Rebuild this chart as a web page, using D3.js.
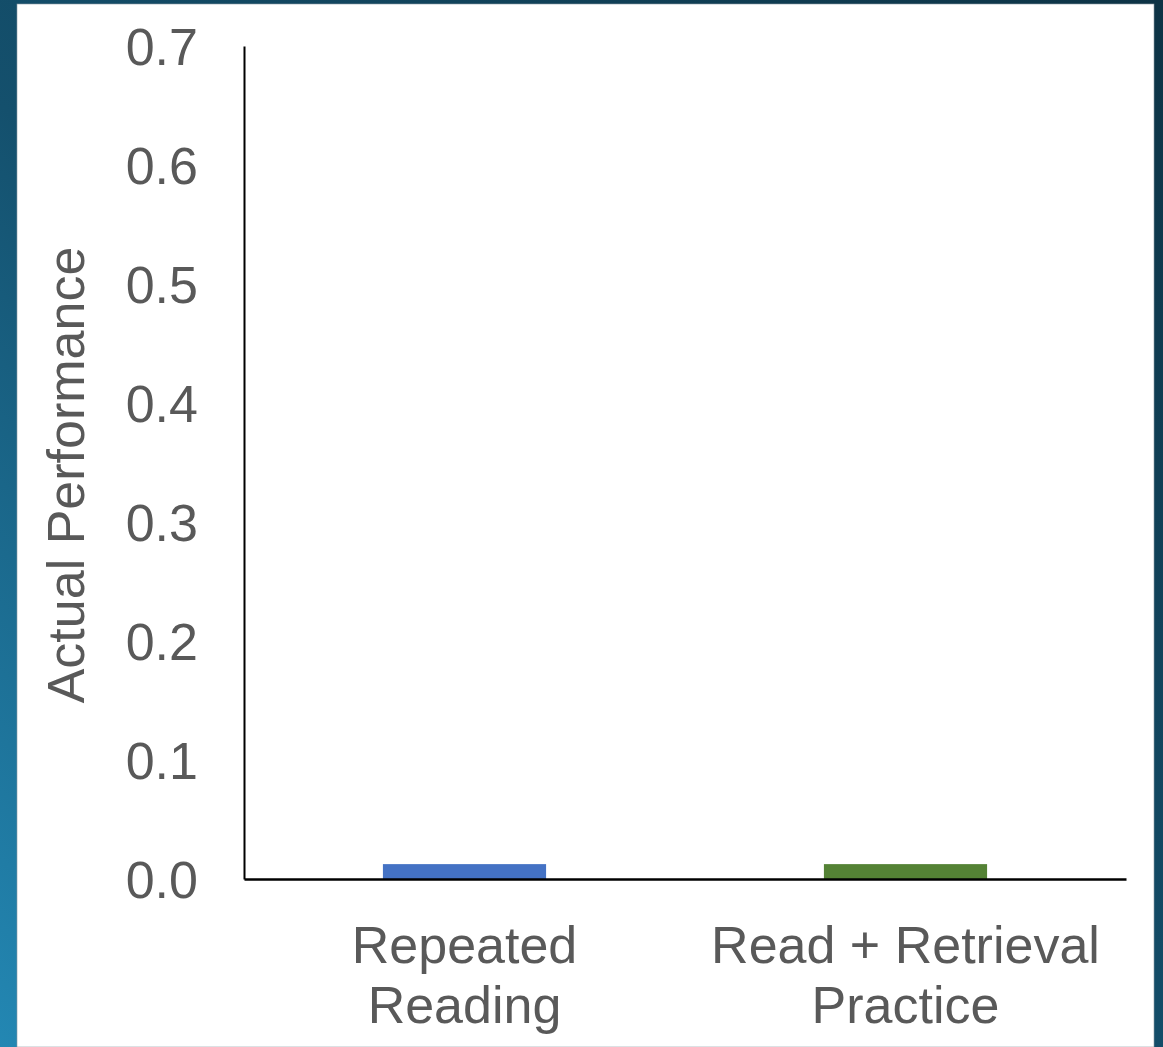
<!DOCTYPE html>
<html>
<head>
<meta charset="utf-8">
<script src="https://cdn.jsdelivr.net/npm/d3@7"></script>
<style>
  html, body { margin: 0; padding: 0; overflow: hidden; }
  body { width: 1163px; height: 1047px; }
  text { font-family: "Liberation Sans", Arial, sans-serif; }
</style>
</head>
<body>
<figure id="chart" style="margin:0"></figure>
<script>
// chart data
var categories = ["Repeated Reading", "Read + Retrieval Practice"];
var labelLines = [["Repeated", "Reading"], ["Read + Retrieval", "Practice"]];
var performance = [0.0125, 0.0125];
var barColors = ["#4472c4", "#548235"];
var yTicks = [0, 0.1, 0.2, 0.3, 0.4, 0.5, 0.6, 0.7];

var dimensions = {
    width: 1163,
    height: 1047,
    margin: { top: 46, right: 37, bottom: 168, left: 244 }
};
dimensions.boundedWidth = dimensions.width - dimensions.margin.left - dimensions.margin.right;
dimensions.boundedHeight = dimensions.height - dimensions.margin.top - dimensions.margin.bottom;

var root = d3.select("figure#chart")
    .append("svg")
    .attr("width", dimensions.width)
    .attr("height", dimensions.height);

// slide background
var defs = root.append("defs");
var grad = defs.append("linearGradient")
    .attr("id", "bg")
    .attr("x1", "1").attr("y1", "0")
    .attr("x2", "0").attr("y2", "1");
grad.append("stop").attr("offset", "0%").attr("stop-color", "#0d3345");
grad.append("stop").attr("offset", "55%").attr("stop-color", "#14506d");
grad.append("stop").attr("offset", "100%").attr("stop-color", "#2387b3");

root.append("rect")
    .attr("width", dimensions.width)
    .attr("height", dimensions.height)
    .attr("fill", "url(#bg)");

root.append("rect")
    .attr("x", 17).attr("y", 4)
    .attr("width", 1137).attr("height", 1043)
    .attr("fill", "#ffffff")
    .attr("stroke", "#8a9aa3")
    .attr("stroke-width", 0.6);

var svg = root.append("g")
    .attr("transform", `translate(${dimensions.margin.left}, ${dimensions.margin.top})`);

var yScale = d3.scaleLinear()
    .domain([0, 0.7])
    .range([dimensions.boundedHeight, 0]);

var xScale = d3.scaleBand()
    .domain(categories)
    .range([0, dimensions.boundedWidth])
    .paddingInner(0.63)
    .paddingOuter(0.315);

// bars
svg.selectAll("rect.bar")
    .data(categories)
    .enter()
    .append("rect")
    .attr("class", "bar")
    .attr("x", d => xScale(d))
    .attr("y", (d, i) => yScale(performance[i]))
    .attr("width", xScale.bandwidth())
    .attr("height", (d, i) => yScale(0) - yScale(performance[i]))
    .attr("fill", (d, i) => barColors[i]);

// y axis
var yAxis = svg.append("g")
    .attr("class", "y axis")
    .call(d3.axisLeft(yScale).tickValues(yTicks).tickFormat(d3.format(".1f")).tickSize(0).tickPadding(46));
yAxis.select(".domain").attr("stroke", "#000").attr("stroke-width", 2);
yAxis.selectAll("text")
    .attr("fill", "#595959")
    .style("font-size", "52px")
    .attr("dy", "0.36em");

// x axis
var xAxis = svg.append("g")
    .attr("class", "x axis")
    .attr("transform", `translate(0, ${dimensions.boundedHeight})`)
    .call(d3.axisBottom(xScale).tickSize(0).tickFormat(""));
xAxis.select(".domain").attr("stroke", "#000").attr("stroke-width", 2.5);

var xLabels = svg.append("g")
    .selectAll("text")
    .data(categories)
    .enter()
    .append("text")
    .attr("text-anchor", "middle")
    .attr("fill", "#595959")
    .style("font-size", "52px")
    .attr("x", d => xScale(d) + xScale.bandwidth() / 2)
    .attr("y", dimensions.boundedHeight + 84);
xLabels.each(function(d, i) {
    var t = d3.select(this);
    labelLines[i].forEach((line, j) => {
        t.append("tspan")
            .attr("x", xScale(d) + xScale.bandwidth() / 2)
            .attr("dy", j === 0 ? 0 : 60)
            .text(line);
    });
});

// y axis title
root.append("text")
    .attr("transform", "translate(84, 475) rotate(-90)")
    .attr("text-anchor", "middle")
    .attr("fill", "#595959")
    .style("font-size", "52px")
    .text("Actual Performance");
</script>
</body>
</html>
